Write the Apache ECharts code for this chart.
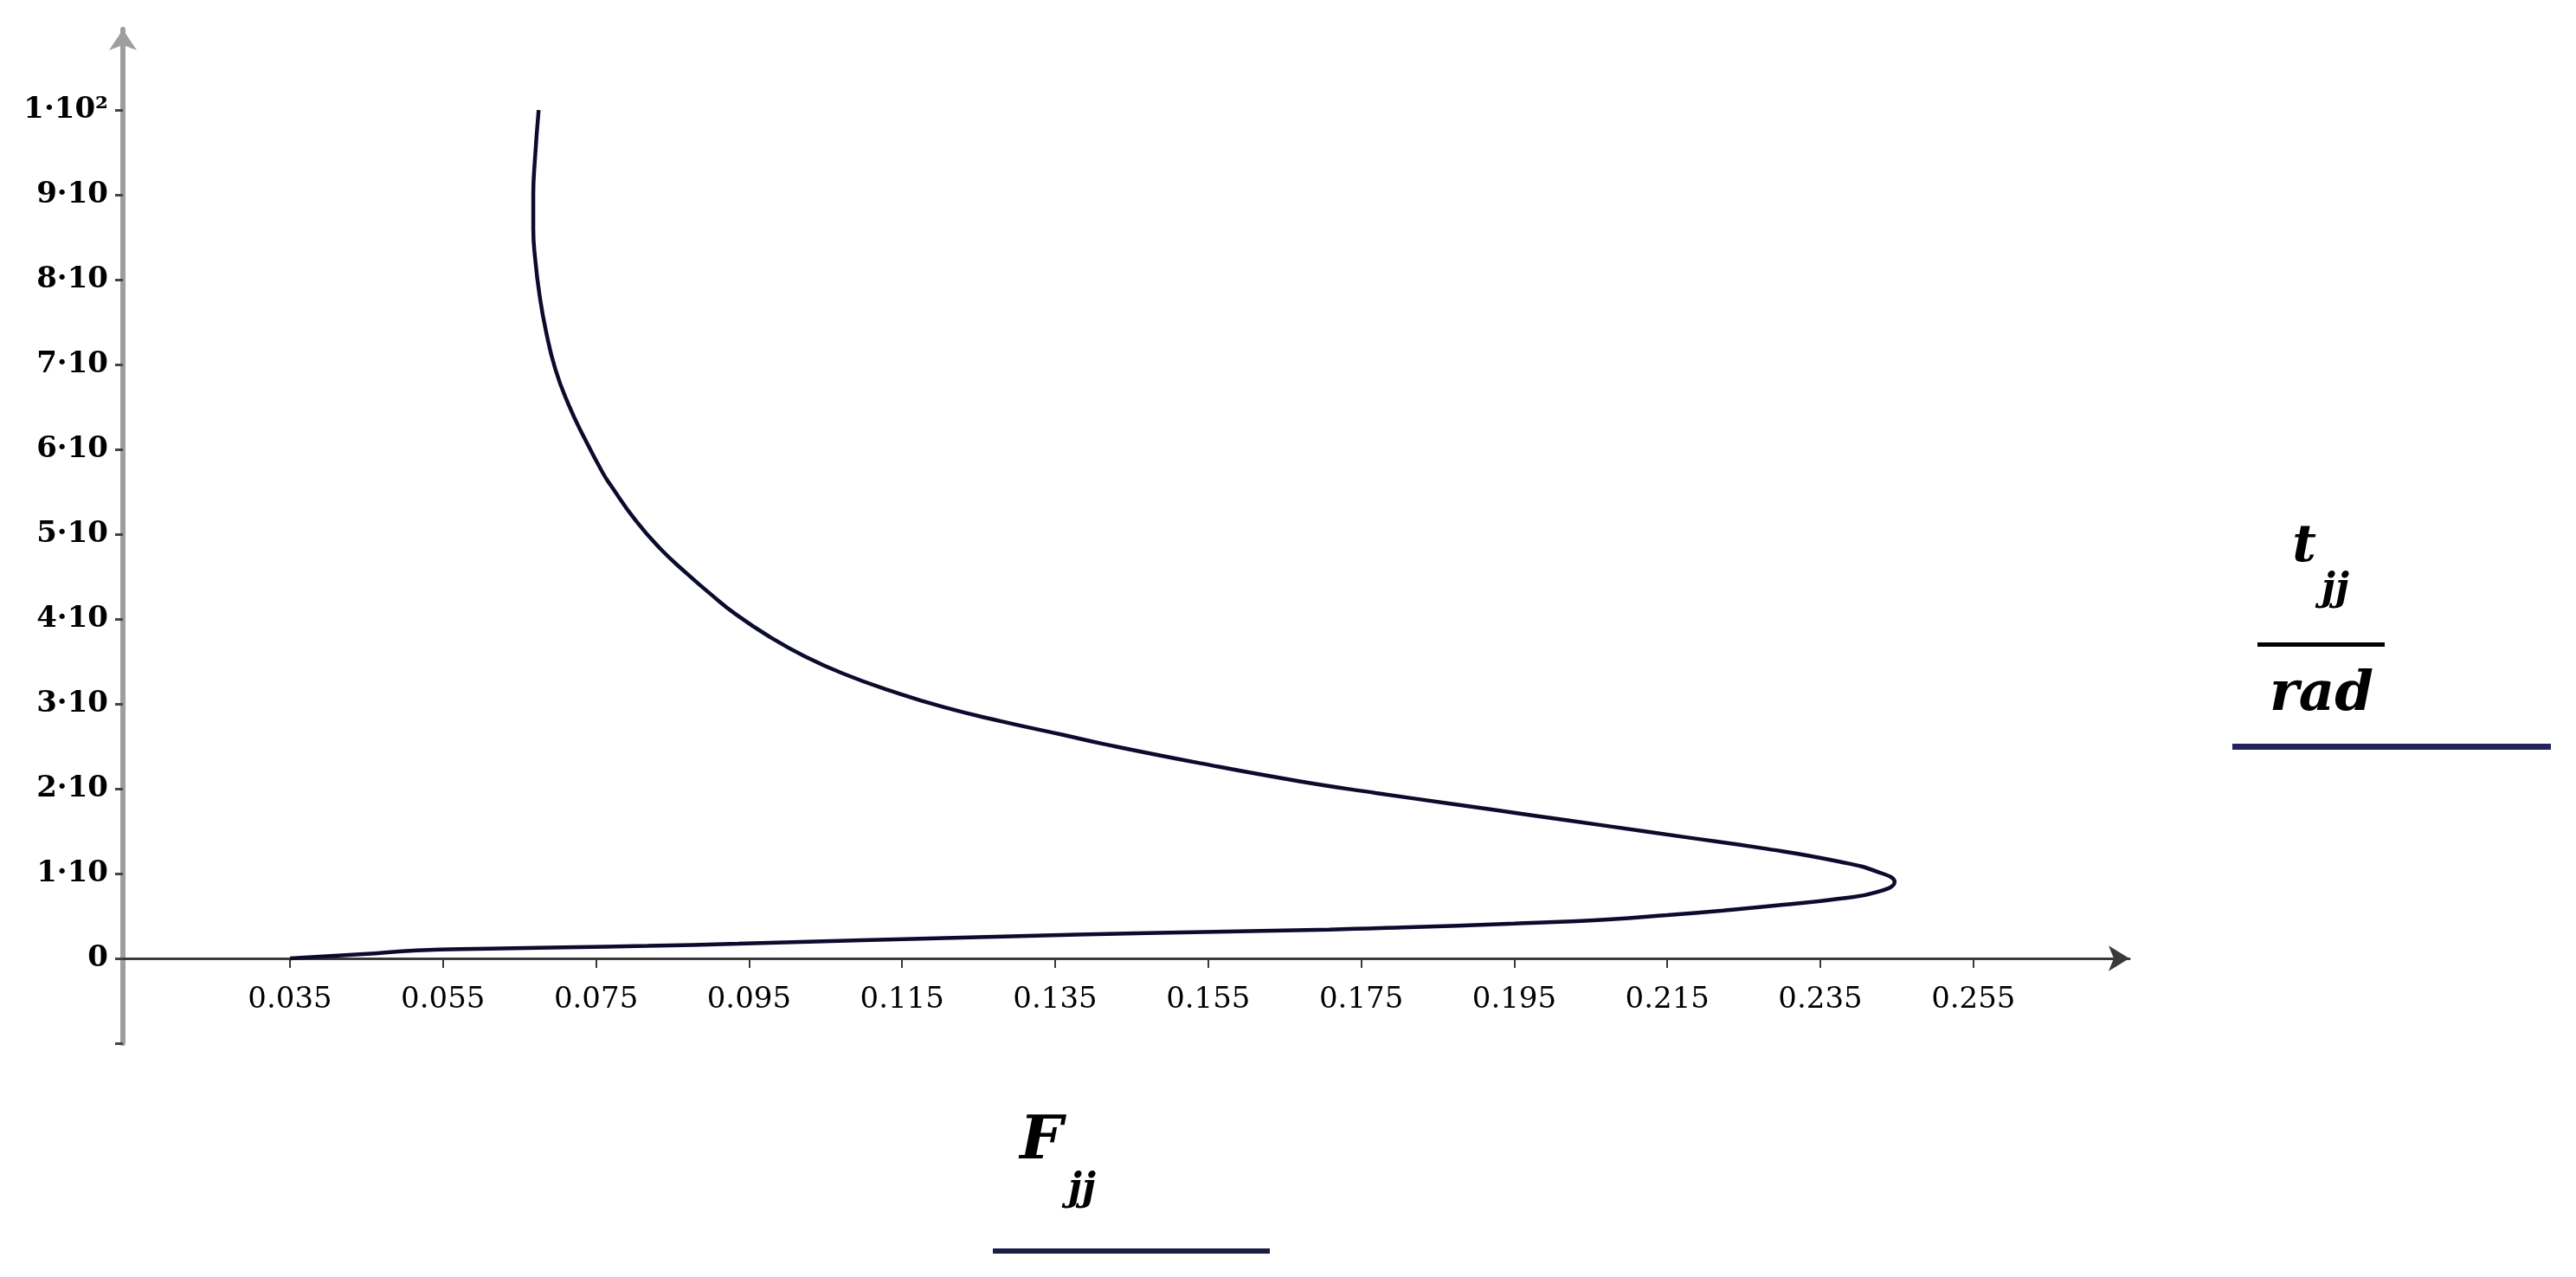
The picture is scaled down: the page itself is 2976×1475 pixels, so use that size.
<!DOCTYPE html>
<html><head><meta charset="utf-8">
<script src="https://cdn.jsdelivr.net/npm/echarts@6/dist/echarts.min.js"></script>
<style>html,body{margin:0;padding:0;background:#fff}#c{width:2976px;height:1475px}</style>
</head><body><div id="c"></div>
<script>
// Curve path F_jj (x) and t_jj (y), in drawing order: lower branch then upper branch
const Fjj = [0.0350,0.0446,0.0516,0.0610,0.0708,0.0817,0.0936,0.1098,0.1379,0.1560,0.1708,0.1803,0.1950,0.2073,0.2150,0.2223,0.2299,0.2375,0.2425,0.2447,
             0.2425,0.2375,0.2274,0.2173,0.2072,0.1971,0.1870,0.1769,0.1668,0.1540,0.1412,0.1360,0.1282,0.1205,0.1133,0.1075,0.1023,0.0977,0.0932,0.0899,0.0867,0.0834,0.0802,0.0769,0.0759,0.0735,0.0714,0.0697,0.0684,0.0676,0.0671,0.0668,0.0668,0.0670,0.0675];
const tjj = [0.0,0.5,0.95,1.15,1.3,1.47,1.73,2.15,2.8,3.15,3.4,3.65,4.1,4.6,5.1,5.65,6.3,7.05,7.85,9.0,
             10.2,11.4,13.0,14.3,15.6,16.9,18.2,19.5,20.9,23.0,25.3,26.35,27.9,29.6,31.6,33.5,35.6,37.9,40.6,43.0,45.5,48.3,51.6,55.8,57.2,61.3,65.3,69.4,74.2,78.3,82.0,86.0,90.0,94.0,100];
const xTickValues = [0.035,0.055,0.075,0.095,0.115,0.135,0.155,0.175,0.195,0.215,0.235,0.255];
const xTickLabels = ['0.035','0.055','0.075','0.095','0.115','0.135','0.155','0.175','0.195','0.215','0.235','0.255'];
const yTickValues = [0,10,20,30,40,50,60,70,80,90,100];
const yTickLabels = ['0','1·10','2·10','3·10','4·10','5·10','6·10','7·10','8·10','9·10','1·10²'];
const yTickMarks = [-10,0,10,20,30,40,50,60,70,80,90,100];
const xMin = 0.01317, xMax = 0.27538, yMin = -10, yMax = 109.5;

const points = Fjj.map((x, i) => [x, tjj[i]]);
const chart = echarts.init(document.getElementById('c'), null, {renderer: 'canvas'});
const lab = (vals, labels) => v => {
  let best = 0, d = Infinity;
  vals.forEach((t, i) => { if (Math.abs(t - v) < d) { d = Math.abs(t - v); best = i; } });
  return labels[best];
};
const serifB = '"DejaVu Serif", serif';
const gridTop = 34, gridBottom = 270, plotH = 1475 - gridTop - gridBottom;
const zeroOffset = -plotH * (0 - yMin) / (yMax - yMin);
chart.setOption({
  backgroundColor: '#ffffff',
  animation: false,
  grid: {left: 142, right: 516, top: gridTop, bottom: gridBottom, containLabel: false},
  xAxis: {
    type: 'value', min: xMin, max: xMax, position: 'bottom', offset: zeroOffset,
    splitLine: {show: false},
    axisLine: {show: true, onZero: false, symbol: ['none', 'arrow'], symbolSize: [22, 24],
      lineStyle: {color: '#3a3a3a', width: 3}},
    axisTick: {show: true, customValues: xTickValues, length: 11, lineStyle: {color: '#3a3a3a', width: 2}},
    axisLabel: {show: true, customValues: xTickValues, formatter: lab(xTickValues, xTickLabels),
      margin: 31, color: '#000', fontFamily: serifB, fontSize: 34, fontWeight: 'normal'}
  },
  yAxis: {
    type: 'value', min: yMin, max: yMax,
    splitLine: {show: false},
    axisLine: {show: true, symbol: ['none', 'arrow'], symbolSize: [24, 24],
      lineStyle: {color: '#9e9e9e', width: 6}},
    axisTick: {show: true, customValues: yTickMarks, length: 9, lineStyle: {color: '#444', width: 3}},
    axisLabel: {show: true, customValues: yTickValues, formatter: lab(yTickValues, yTickLabels),
      margin: 17, color: '#000', fontFamily: serifB, fontSize: 34, fontWeight: 'bold'}
  },
  series: [{
    type: 'line', data: points, showSymbol: false, smooth: 0.5,
    lineStyle: {color: '#0b0b2e', width: 4.5}, silent: true
  }],
  graphic: [
    {type: 'text', x: 2662, y: 632, style: {text: 't', fill: '#000', font: 'italic bold 60px "DejaVu Serif"', align: 'center', verticalAlign: 'middle'}},
    {type: 'text', x: 2698, y: 682, style: {text: 'jj', fill: '#000', font: 'italic bold 44px "DejaVu Serif"', align: 'center', verticalAlign: 'middle'}},
    {type: 'rect', shape: {x: 2608, y: 742, width: 147, height: 5}, style: {fill: '#000'}},
    {type: 'text', x: 2682, y: 803, style: {text: 'rad', fill: '#000', font: 'italic bold 64px "DejaVu Serif"', align: 'center', verticalAlign: 'middle'}},
    {type: 'rect', shape: {x: 2579, y: 859, width: 368, height: 7}, style: {fill: '#24245c'}},
    {type: 'text', x: 1203, y: 1320, style: {text: 'F', fill: '#000', font: 'italic bold 70px "DejaVu Serif"', align: 'center', verticalAlign: 'middle'}},
    {type: 'text', x: 1250, y: 1375, style: {text: 'jj', fill: '#000', font: 'italic bold 44px "DejaVu Serif"', align: 'center', verticalAlign: 'middle'}},
    {type: 'rect', shape: {x: 1147, y: 1442, width: 320, height: 6}, style: {fill: '#1c1c44'}}
  ]
});
</script></body></html>
